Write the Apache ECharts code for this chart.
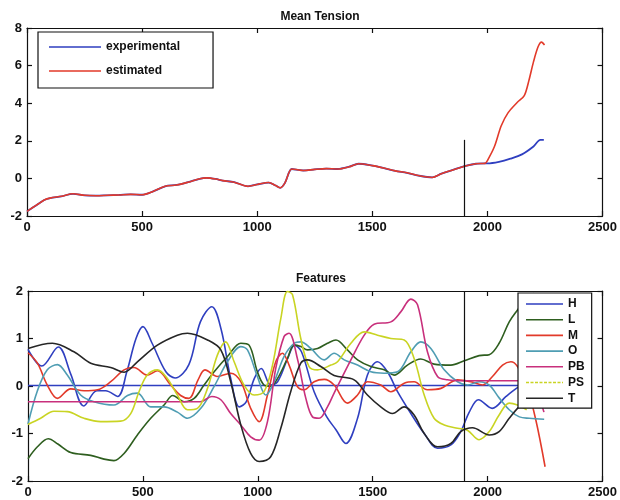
<!DOCTYPE html>
<html>
<head>
<meta charset="utf-8">
<script src="https://cdn.jsdelivr.net/npm/echarts@6/dist/echarts.min.js"></script>
<style>html,body{margin:0;padding:0;background:#fff}#c{width:620px;height:500px}</style>
</head>
<body>
<div id="c"></div>
<script>
// ---------- Mean Tension ----------
const tensionX = [0,25,50,75,100,150,200,250,300,350,400,450,500,550,600,650,700,750,780,820,850,900,960,1000,1050,1080,1100,1120,1150,1180,1200,1250,1300,1350,1400,1440,1500,1550,1600,1650,1700,1760,1800,1850,1900,1950,1990];
const tensionCommon = [-1.75,-1.55,-1.35,-1.15,-1.05,-0.95,-0.82,-0.9,-0.92,-0.9,-0.88,-0.85,-0.87,-0.68,-0.42,-0.35,-0.2,-0.02,0.03,-0.03,-0.12,-0.2,-0.42,-0.32,-0.22,-0.38,-0.5,-0.25,0.5,0.45,0.42,0.48,0.52,0.5,0.62,0.78,0.68,0.55,0.4,0.3,0.15,0.05,0.25,0.45,0.65,0.78,0.8];
const expTailX = [2000,2050,2100,2150,2200,2230,2245];
const expTail = [0.8,0.88,1.05,1.28,1.7,2.05,2.05];
const estTailX = [2000,2030,2060,2090,2130,2160,2180,2200,2220,2235,2248];
const estTail = [0.95,1.68,2.8,3.5,4.05,4.4,5.2,6.2,7.0,7.25,7.1];
const splitX = 1900;
const splitTop = 2.05;

// ---------- Features ----------
const featH = [[0,0.77],[60,0.42],[132,0.82],[186,0.25],[243,-0.42],[300,-0.1],[338,-0.1],[390,-0.22],[430,0.3],[470,1.0],[500,1.25],[540,0.9],[600,0.3],[640,0.17],[700,0.45],[750,1.35],[800,1.67],[840,1.2],[882,0.16],[920,-0.44],[950,-0.33],[985,0.16],[1015,0.37],[1056,0.02],[1086,0.09],[1130,0.58],[1160,0.86],[1190,0.72],[1245,-0.12],[1300,-0.65],[1340,-0.92],[1383,-1.21],[1434,-0.68],[1477,0.23],[1521,0.51],[1564,0.3],[1608,-0.12],[1666,-0.58],[1724,-1.0],[1782,-1.31],[1840,-1.24],[1883,-0.96],[1920,-0.55],[1960,-0.29],[2020,-0.47],[2080,-0.22],[2125,-0.05],[2160,0.05]];
const featHref = [[0,0.01],[2250,0.01]];
const featL = [[0,-1.53],[41,-1.28],[88,-1.11],[130,-1.22],[186,-1.4],[273,-1.46],[331,-1.54],[374,-1.57],[418,-1.42],[476,-1.03],[534,-0.68],[592,-0.4],[630,-0.2],[680,-0.33],[723,-0.26],[766,0.02],[810,0.3],[868,0.62],[926,0.9],[962,0.86],[998,0.3],[1027,0.02],[1056,-0.01],[1086,0.16],[1129,0.58],[1158,0.86],[1187,0.83],[1216,0.76],[1260,0.79],[1303,0.9],[1340,0.97],[1390,0.76],[1434,0.55],[1492,0.41],[1550,0.34],[1593,0.23],[1651,0.44],[1709,0.57],[1767,0.46],[1840,0.44],[1898,0.53],[1963,0.64],[2007,0.66],[2050,0.9],[2094,1.35],[2130,1.6],[2170,1.85],[2200,1.95]];
const featM = [[0,0.7],[41,0.48],[84,0.02],[128,-0.26],[186,-0.06],[244,-0.1],[302,-0.08],[360,0.09],[418,0.34],[461,0.39],[519,0.23],[563,0.32],[621,0.02],[664,-0.2],[700,-0.26],[740,0.13],[770,0.34],[824,0.2],[882,0.27],[926,0.09],[969,-0.47],[1006,-0.75],[1042,-0.19],[1078,0.51],[1107,0.69],[1136,0.44],[1172,-0.01],[1202,-0.08],[1245,0.09],[1289,0.14],[1332,0.02],[1390,-0.36],[1434,-0.19],[1477,0.09],[1535,0.02],[1579,-0.12],[1637,0.06],[1680,0.09],[1738,-0.08],[1797,-0.05],[1869,0.13],[1927,0.09],[1978,0.02],[2021,0.2],[2065,0.44],[2101,0.51],[2130,0.41],[2170,0.0],[2210,-0.72],[2250,-1.7]];
const featO = [[0,-0.8],[41,-0.1],[84,0.34],[128,0.45],[171,0.23],[229,-0.19],[287,-0.33],[374,-0.4],[433,-0.2],[476,-0.15],[534,-0.44],[592,-0.44],[650,-0.55],[694,-0.68],[752,-0.47],[810,-0.01],[868,0.51],[926,0.83],[955,0.76],[998,0.2],[1035,-0.19],[1071,0.09],[1114,0.62],[1158,0.9],[1187,0.93],[1231,0.79],[1289,0.55],[1332,0.69],[1376,0.55],[1434,0.44],[1492,0.3],[1550,0.27],[1608,0.3],[1666,0.72],[1709,0.93],[1753,0.79],[1811,0.34],[1869,0.09],[1912,0.02],[1963,0.09],[2007,0.02],[2050,-0.25],[2094,-0.5],[2138,-0.65],[2181,-0.68],[2246,-0.7]];
const featPB = [[0,-0.33],[750,-0.33],[800,-0.22],[839,-0.29],[882,-0.58],[926,-0.82],[969,-1.07],[1006,-1.14],[1042,-0.75],[1078,0.37],[1114,1.04],[1136,1.11],[1172,0.58],[1209,-0.26],[1238,-0.65],[1267,-0.68],[1303,-0.44],[1332,-0.15],[1405,0.55],[1463,1.07],[1506,1.3],[1579,1.35],[1622,1.56],[1666,1.83],[1695,1.71],[1738,0.72],[1782,0.2],[1825,0.13],[1898,0.11],[2150,0.11],[2200,0.0],[2245,-0.55]];
const featPS = [[0,-0.81],[55,-0.68],[113,-0.53],[171,-0.54],[244,-0.68],[316,-0.75],[403,-0.74],[447,-0.58],[483,-0.12],[519,0.23],[563,0.34],[606,0.16],[650,-0.19],[694,-0.5],[737,-0.47],[781,-0.05],[824,0.65],[860,0.93],[897,0.51],[940,0.02],[984,-0.19],[1027,-0.12],[1064,0.44],[1100,1.42],[1129,1.99],[1151,1.92],[1187,1.0],[1223,0.41],[1260,0.34],[1318,0.44],[1347,0.51],[1405,0.9],[1463,1.14],[1521,1.07],[1579,1.0],[1637,0.97],[1680,0.58],[1724,-0.19],[1767,-0.68],[1811,-0.82],[1869,-0.89],[1912,-0.93],[1963,-1.13],[2007,-0.96],[2050,-0.61],[2094,-0.36],[2130,-0.4],[2170,-0.5]];
const featT = [[0,0.79],[106,0.9],[200,0.72],[273,0.48],[360,0.39],[418,0.29],[476,0.51],[563,0.86],[650,1.07],[694,1.11],[781,0.97],[839,0.76],[882,0.09],[926,-0.82],[969,-1.42],[1006,-1.59],[1056,-1.49],[1100,-0.89],[1143,-0.12],[1187,0.48],[1216,0.55],[1274,0.41],[1332,0.22],[1419,0.13],[1477,-0.19],[1535,-0.44],[1586,-0.58],[1637,-0.44],[1680,-0.61],[1724,-1.0],[1782,-1.28],[1840,-1.21],[1883,-0.96],[1934,-0.88],[2007,-1.03],[2050,-0.96],[2094,-0.68],[2130,-0.47],[2170,-0.3]];

const xTicks = {min:0, max:2500, interval:500};
const topY = {min:-2, max:8, interval:2};
const botY = {min:-2, max:2, interval:1};

const zip = (xs, ys) => xs.map((x, i) => [x, ys[i]]);
const expData = zip(tensionX.concat(expTailX), tensionCommon.concat(expTail));
const estData = zip(tensionX.concat(estTailX), tensionCommon.concat(estTail));

const FONT = 'Liberation Sans, Arial, sans-serif';
const lbl = {fontFamily: FONT, fontSize: 13, fontWeight: 'bold', color: '#111', formatter: v => String(v)};
const axLine = {show: true, onZero: false, lineStyle: {color: '#111', width: 1.2}};
const tick = {show: true, inside: true, length: 5, lineStyle: {color: '#111', width: 1.2}};

function xAx(grid, pos, labels) {
  return Object.assign({gridIndex: grid, type: 'value', position: pos, axisLine: axLine, axisTick: tick,
    axisLabel: labels ? Object.assign({margin: 5}, lbl) : {show: false}, splitLine: {show: false}}, xTicks);
}
function yAx(grid, pos, labels, range) {
  return Object.assign({gridIndex: grid, type: 'value', position: pos, axisLine: axLine, axisTick: tick,
    axisLabel: labels ? Object.assign({margin: 5}, lbl) : {show: false}, splitLine: {show: false}}, range);
}

// legend icons: thin line inside a fixed bounding box (tiny corner anchors keep the box size)
function lineIcon(w, h) {
  const y = h / 2 - 0.8;
  return 'path://M0,0h0.01v0.01h-0.01z M0,' + y + 'h' + w + 'v1.6h-' + w + 'z M' + (w - 0.01) + ',' + (h - 0.01) + 'h0.01v0.01h-0.01z';
}
function dashIcon(w, h) {
  const y = h / 2 - 0.8;
  let p = 'path://M0,0h0.01v0.01h-0.01z';
  for (let x = 0; x < w; x += 4.5) {
    const len = Math.min(3, w - x);
    p += ' M' + x + ',' + y + 'h' + len + 'v1.6h-' + len + 'z';
  }
  p += ' M' + (w - 0.01) + ',' + (h - 0.01) + 'h0.01v0.01h-0.01z';
  return p;
}

const colors = {H: '#2f3fc0', L: '#2e5e1f', M: '#e23a2a', O: '#4f9db3', PB: '#c8307c', PS: '#c9d423', T: '#262626'};
function feat(name, data, color) {
  return {name: name, type: 'line', xAxisIndex: 2, yAxisIndex: 2, data: data, symbol: 'none', smooth: 0.35,
    lineStyle: {color: color, width: 1.6}, itemStyle: {color: color}, animation: false};
}
const legendText = {fontFamily: FONT, fontSize: 12, fontWeight: 'bold', color: '#111'};
const botIcon = lineIcon(37, 12);

const chart = echarts.init(document.getElementById('c'), null, {renderer: 'canvas'});
chart.setOption({
  animation: false,
  backgroundColor: '#fff',
  title: [
    {text: 'Mean Tension', left: 315, top: 6, textAlign: 'center', textStyle: {fontFamily: FONT, fontSize: 12, fontWeight: 'bold', color: '#111'}},
    {text: 'Features', left: 316, top: 268, textAlign: 'center', textStyle: {fontFamily: FONT, fontSize: 12, fontWeight: 'bold', color: '#111'}}
  ],
  grid: [
    {left: 27, right: 17, top: 28, height: 188},
    {left: 28, right: 16, top: 291, height: 190}
  ],
  xAxis: [xAx(0, 'bottom', true), xAx(0, 'top', false), xAx(1, 'bottom', true), xAx(1, 'top', false)],
  yAxis: [yAx(0, 'left', true, topY), yAx(0, 'right', false, topY), yAx(1, 'left', true, botY), yAx(1, 'right', false, botY)],
  legend: [
    {data: ['experimental', 'estimated'], icon: lineIcon(52, 14), orient: 'vertical', left: 38, top: 32, itemWidth: 52, itemHeight: 14, itemGap: 10,
     padding: [8, 33, 10, 11], borderColor: '#111', borderWidth: 1.2, backgroundColor: '#fff',
     itemStyle: {borderWidth: 0}, textStyle: legendText},
    {data: ['H', 'L', 'M', 'O', 'PB', {name: 'PS', icon: dashIcon(37, 12)}, 'T'], icon: botIcon, orient: 'vertical', left: 518, top: 293,
     itemWidth: 37, itemHeight: 12, itemGap: 3.7, padding: [5, 7, 4, 8], borderColor: '#111', borderWidth: 1.2, backgroundColor: '#fff',
     itemStyle: {borderWidth: 0}, textStyle: legendText}
  ],
  series: [
    {name: 'experimental', type: 'line', xAxisIndex: 0, yAxisIndex: 0, data: expData, symbol: 'none', smooth: 0.3,
     lineStyle: {color: '#2f3fc0', width: 1.8}, itemStyle: {color: '#2f3fc0'},
     markLine: {silent: true, symbol: 'none', label: {show: false}, lineStyle: {color: '#111', width: 1.2, type: 'solid'},
       data: [[{coord: [splitX, topY.min]}, {coord: [splitX, splitTop]}]]}},
    {name: 'estimated', type: 'line', xAxisIndex: 0, yAxisIndex: 0, data: estData, symbol: 'none', smooth: 0.3,
     lineStyle: {color: '#e23a2a', width: 1.6}, itemStyle: {color: '#e23a2a'}},
    {name: 'H-ref', type: 'line', xAxisIndex: 2, yAxisIndex: 2, data: featHref, symbol: 'none',
     lineStyle: {color: colors.H, width: 1.6}, itemStyle: {color: colors.H},
     markLine: {silent: true, symbol: 'none', label: {show: false}, lineStyle: {color: '#111', width: 1.2, type: 'solid'},
       data: [{xAxis: splitX}]}},
    feat('H', featH, colors.H),
    feat('L', featL, colors.L),
    feat('M', featM, colors.M),
    feat('O', featO, colors.O),
    feat('PB', featPB, colors.PB),
    feat('PS', featPS, colors.PS),
    feat('T', featT, colors.T)
  ]
});
</script>
</body>
</html>
